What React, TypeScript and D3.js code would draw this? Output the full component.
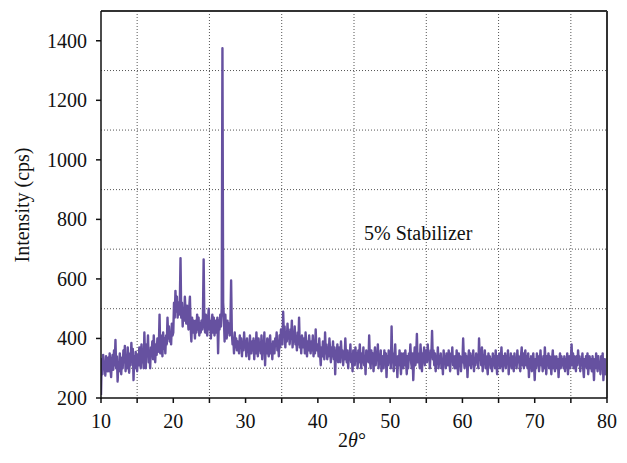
import React from 'react';
import * as d3 from 'd3';

// XRD scan, 10° to 80° in 0.1° steps (intensities, one row per degree)
const angleStart = 10;
const angleStep = 0.1;
const intensity = [
  210, 330, 280, 345, 300, 320, 275, 340, 305, 290, // 10
  335, 290, 350, 300, 270, 325, 345, 295, 360, 310, // 11
  395, 300, 340, 255, 320, 290, 350, 310, 280, 335, // 12
  300, 360, 320, 375, 290, 340, 300, 370, 315, 285, // 13
  350, 310, 385, 330, 365, 260, 340, 300, 355, 320, // 14
  290, 345, 310, 370, 330, 300, 380, 320, 350, 300, // 15
  420, 330, 300, 380, 340, 410, 320, 360, 300, 370, // 16
  350, 390, 330, 410, 360, 320, 380, 345, 400, 355, // 17
  370, 480, 350, 410, 380, 340, 420, 365, 400, 350, // 18
  410, 380, 470, 400, 440, 390, 420, 380, 450, 410, // 19
  420, 520, 470, 560, 490, 540, 470, 520, 480, 510, // 20
  670, 470, 520, 440, 500, 460, 540, 490, 450, 510, // 21
  480, 430, 500, 540, 440, 390, 470, 420, 460, 440, // 22
  400, 460, 420, 480, 430, 470, 410, 450, 420, 460, // 23
  430, 470, 665, 450, 420, 480, 430, 410, 460, 500, // 24
  430, 460, 400, 450, 480, 420, 470, 410, 440, 460, // 25
  420, 470, 350, 460, 430, 480, 440, 500, 1375, 520, // 26
  470, 390, 480, 430, 400, 460, 420, 450, 410, 440, // 27
  595, 420, 380, 400, 350, 420, 370, 400, 360, 390, // 28
  380, 350, 410, 370, 400, 340, 390, 360, 420, 370, // 29
  390, 340, 400, 360, 380, 330, 410, 370, 350, 390, // 30
  360, 400, 330, 390, 350, 420, 370, 340, 400, 360, // 31
  380, 350, 410, 330, 390, 360, 420, 310, 380, 350, // 32
  400, 360, 340, 390, 410, 350, 380, 330, 390, 360, // 33
  350, 400, 380, 420, 360, 390, 340, 410, 370, 430, // 34
  400, 380, 490, 410, 440, 370, 420, 390, 450, 400, // 35
  420, 380, 430, 400, 460, 370, 410, 390, 440, 380, // 36
  400, 360, 420, 380, 470, 370, 400, 350, 410, 390, // 37
  370, 400, 350, 420, 380, 340, 390, 360, 410, 370, // 38
  350, 390, 360, 410, 340, 380, 350, 430, 360, 370, // 39
  380, 340, 400, 350, 310, 370, 340, 390, 360, 330, // 40
  420, 350, 380, 330, 370, 340, 400, 360, 320, 370, // 41
  340, 390, 330, 370, 280, 360, 340, 380, 320, 350, // 42
  370, 320, 390, 340, 360, 310, 350, 330, 400, 340, // 43
  320, 360, 300, 350, 330, 380, 320, 340, 290, 360, // 44
  340, 310, 370, 330, 350, 300, 360, 320, 380, 330, // 45
  300, 350, 320, 370, 310, 340, 280, 360, 330, 350, // 46
  320, 410, 330, 300, 360, 320, 350, 290, 340, 370, // 47
  310, 350, 330, 380, 300, 340, 320, 360, 290, 340, // 48
  330, 300, 360, 320, 350, 270, 340, 310, 360, 320, // 49
  340, 300, 440, 320, 350, 290, 330, 380, 310, 340, // 50
  270, 340, 310, 360, 320, 280, 350, 330, 300, 350, // 51
  310, 360, 320, 280, 340, 300, 350, 330, 380, 320, // 52
  300, 350, 260, 330, 370, 310, 340, 415, 320, 350, // 53
  330, 300, 380, 340, 290, 350, 320, 370, 310, 340, // 54
  360, 320, 380, 330, 350, 300, 360, 340, 425, 330, // 55
  360, 310, 350, 290, 340, 320, 370, 300, 340, 320, // 56
  350, 300, 330, 280, 360, 320, 340, 300, 350, 330, // 57
  310, 360, 320, 290, 350, 330, 370, 310, 340, 300, // 58
  340, 300, 360, 320, 280, 350, 310, 340, 290, 330, // 59
  320, 400, 330, 300, 350, 310, 340, 270, 330, 360, // 60
  310, 350, 300, 340, 320, 360, 290, 330, 310, 350, // 61
  320, 340, 300, 400, 330, 350, 310, 370, 290, 340, // 62
  320, 360, 300, 340, 310, 280, 350, 320, 340, 300, // 63
  330, 290, 350, 310, 340, 300, 360, 320, 280, 340, // 64
  310, 350, 300, 330, 370, 320, 290, 340, 310, 350, // 65
  300, 340, 320, 360, 280, 330, 310, 350, 300, 340, // 66
  320, 290, 350, 310, 330, 300, 360, 320, 340, 310, // 67
  290, 340, 370, 310, 350, 300, 330, 360, 310, 340, // 68
  300, 350, 270, 330, 310, 340, 290, 330, 350, 310, // 69
  260, 330, 300, 350, 310, 340, 290, 320, 360, 310, // 70
  330, 290, 340, 300, 370, 320, 280, 340, 310, 350, // 71
  300, 340, 320, 280, 330, 360, 300, 340, 290, 320, // 72
  340, 300, 330, 270, 320, 350, 300, 340, 310, 330, // 73
  300, 340, 290, 330, 310, 350, 280, 320, 340, 300, // 74
  330, 380, 310, 350, 300, 340, 320, 290, 340, 310, // 75
  360, 320, 340, 290, 330, 310, 350, 300, 270, 330, // 76
  310, 340, 300, 350, 280, 320, 340, 300, 330, 290, // 77
  340, 310, 260, 330, 300, 350, 320, 290, 340, 300, // 78
  320, 280, 340, 300, 350, 260, 310, 330, 280, 320, // 79
  290, // 80
];

const xTicks = [10, 20, 30, 40, 50, 60, 70, 80];
const xMinorTicks = [15, 25, 35, 45, 55, 65, 75];
const yTicks = [200, 400, 600, 800, 1000, 1200, 1400];
const yGrid = [300, 500, 700, 900, 1100, 1300];

const W = 627;
const H = 463;
const plot = { left: 101, right: 607, top: 11, bottom: 398 };
const font = 'Liberation Serif';

export default function App() {
  const x = d3.scaleLinear().domain([10, 80]).range([plot.left, plot.right]);
  const y = d3.scaleLinear().domain([200, 1500]).range([plot.bottom, plot.top]);

  const points = intensity.map((v, i) => ({ angle: angleStart + i * angleStep, value: v }));
  const line = d3
    .line<{ angle: number; value: number }>()
    .x((d) => x(d.angle))
    .y((d) => y(d.value));

  return (
    <svg width={W} height={H} style={{ position: 'absolute', left: 0, top: 0 }}>
      <rect width={W} height={H} fill="#fff" />

      {/* dotted grid on the half steps */}
      <g stroke="#555" strokeWidth={1} strokeDasharray="1,2">
        {xMinorTicks.map((t) => (
          <line key={'gx' + t} x1={x(t)} x2={x(t)} y1={plot.top} y2={plot.bottom} />
        ))}
        {yGrid.map((t) => (
          <line key={'gy' + t} x1={plot.left} x2={plot.right} y1={y(t)} y2={y(t)} />
        ))}
      </g>

      <clipPath id="plotClip">
        <rect x={plot.left} y={plot.top} width={plot.right - plot.left} height={plot.bottom - plot.top} />
      </clipPath>
      <path
        d={line(points) || ''}
        fill="none"
        stroke="#6651a0"
        strokeWidth={2.4}
        strokeLinejoin="round"
        clipPath="url(#plotClip)"
      />

      {/* frame */}
      <line x1={plot.left} x2={plot.right} y1={plot.top} y2={plot.top} stroke="#333" strokeWidth={2} />
      <line x1={plot.right} x2={plot.right} y1={plot.top} y2={plot.bottom} stroke="#333" strokeWidth={2} />
      <line x1={plot.left} x2={plot.left} y1={plot.top} y2={plot.bottom + 1} stroke="#111" strokeWidth={1.5} />
      <line x1={plot.left} x2={plot.right} y1={plot.bottom} y2={plot.bottom} stroke="#111" strokeWidth={1.5} />

      {/* ticks */}
      <g stroke="#111" strokeWidth={1.5}>
        {xTicks.concat(xMinorTicks).map((t) => (
          <line key={'tx' + t} x1={x(t)} x2={x(t)} y1={plot.bottom} y2={plot.bottom + 5} />
        ))}
        {yTicks.map((t) => (
          <line key={'ty' + t} x1={plot.left - 5} x2={plot.left} y1={y(t)} y2={y(t)} />
        ))}
      </g>
      <g fontSize={20} fontFamily={font} fill="#111">
        {xTicks.map((t) => (
          <text key={'lx' + t} x={x(t)} y={plot.bottom + 30} textAnchor="middle">
            {t}
          </text>
        ))}
        {yTicks.map((t) => (
          <text key={'ly' + t} x={plot.left - 14} y={y(t)} dy="0.35em" textAnchor="end">
            {t}
          </text>
        ))}
      </g>

      <g fontSize={20} fontFamily={font} fill="#111">
        <text transform="translate(29,205) rotate(-90)" textAnchor="middle">
          Intensity (cps)
        </text>
        <text x={352} y={447} textAnchor="middle">
          2<tspan fontStyle="italic">θ</tspan>°
        </text>
        <text x={364} y={240}>
          5% Stabilizer
        </text>
      </g>
    </svg>
  );
}
